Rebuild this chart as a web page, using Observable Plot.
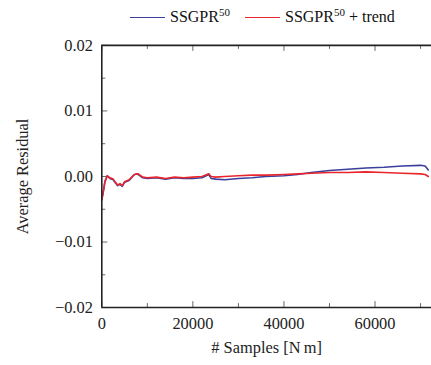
<!DOCTYPE html>
<html><head><meta charset="utf-8">
<script src="https://cdn.jsdelivr.net/npm/d3@7"></script>
<script src="https://cdn.jsdelivr.net/npm/@observablehq/plot@0.6"></script>
<style>
html,body{margin:0;padding:0;background:#fff;overflow:hidden;width:431px;height:365px}
#legend{height:30px;position:relative;font-family:"Liberation Serif",serif;font-size:16px;color:#111}
.item{position:absolute;top:7px;display:flex;align-items:center;white-space:nowrap;line-height:20px}
.sw{display:inline-block;width:35px;height:0;border-top:1.6px solid;margin-right:5px}
sup{font-size:11px;vertical-align:6px;line-height:0}
#chart svg{display:block;font-family:"Liberation Serif",serif !important;font-size:16.5px !important}
#chart svg text{font-family:"Liberation Serif",serif !important}
</style></head><body>
<div id="legend"></div><div id="chart"></div>
<script>
// ---- data ----
const samples =    [0, 300, 700, 1200, 1800, 2500, 3000, 3500, 4000, 4500, 5000, 6000, 7000, 7500, 8000, 9000, 10000, 12000, 14000, 16000, 18000, 20000, 22000, 23500, 24000, 25000, 27000, 30000, 33000, 36000, 40000, 43000, 46000, 50000, 54000, 58000, 62000, 66000, 70000, 71000, 71700];
const ssgpr =      [-0.0035, -0.0025, -0.0008, 0.0001, -0.0003, -0.0005, -0.0010, -0.0014, -0.0012, -0.0015, -0.0009, -0.0006, 0.0002, 0.0004, 0.0003, -0.0002, -0.0003, -0.0002, -0.0004, -0.0002, -0.0003, -0.0003, -0.0002, 0.0003, -0.0003, -0.0004, -0.0005, -0.0003, -0.0002, 0.0000, 0.0001, 0.0003, 0.0006, 0.0009, 0.0011, 0.0013, 0.0014, 0.0016, 0.0017, 0.0016, 0.0010];
const ssgprTrend = [-0.0036, -0.0024, -0.0007, 0.0001, -0.0002, -0.0004, -0.0009, -0.0013, -0.0011, -0.0014, -0.0008, -0.0005, 0.0002, 0.0004, 0.0004, -0.0001, -0.0002, -0.0001, -0.0003, -0.0001, -0.0002, -0.0001, 0.0000, 0.0004, 0.0000, -0.0001, 0.0000, 0.0001, 0.0002, 0.0002, 0.0003, 0.0004, 0.0005, 0.0006, 0.0006, 0.0007, 0.0006, 0.0005, 0.0004, 0.0003, 0.0000];
const seriesLabels = ["SSGPR", "SSGPR"];
const seriesSup = ["50", "50"];
const seriesSuffix = ["", " + trend"];
const seriesColors = ["#3a3f9c", "#e8262c"];
const xMajor = [0, 20000, 40000, 60000];
const xMinor = [10000, 30000, 50000, 70000];
const yMajor = [-0.02, -0.01, 0, 0.01, 0.02];
const yMinor = [-0.015, -0.005, 0.005, 0.015];
const xLabel = "# Samples [N\u2009m]";
const yLabel = "Average Residual";

// ---- legend ----
const legend = document.getElementById("legend");
const legendLeft = [130, 245];
seriesLabels.forEach((s, i) => {
  const it = document.createElement("div");
  it.className = "item";
  it.style.left = legendLeft[i] + "px";
  it.innerHTML = `<span class="sw" style="border-color:${seriesColors[i]}"></span><span>${s}<sup>${seriesSup[i]}</sup>${seriesSuffix[i]}</span>`;
  legend.appendChild(it);
});

// ---- chart ----
const W = 434, H = 335, mT = 15, mB = 56, mL = 102, mR = 0;
const plotH = H - mT - mB;
const plotW = W - mL - mR;
const d1 = samples.map((x, i) => ({x, y: ssgpr[i]}));
const d2 = samples.map((x, i) => ({x, y: ssgprTrend[i]}));
const frame = {stroke: "#222", strokeWidth: 1.6};
const tk = {stroke: "#555", strokeWidth: 0.9};

const chart = Plot.plot({
  width: W, height: H, marginTop: mT, marginBottom: mB, marginLeft: mL, marginRight: mR,
  style: {fontFamily: "'Liberation Serif', serif", fontSize: "16.5px", color: "#222", background: "white", overflow: "visible"},
  x: {domain: [0, 72400]},
  y: {domain: [-0.02, 0.02]},
  marks: [
    Plot.tickX(xMajor, {x: d => d, insetTop: plotH - 6, ...tk}),
    Plot.tickX(xMajor, {x: d => d, insetBottom: plotH - 6, ...tk}),
    Plot.tickX(xMinor, {x: d => d, insetTop: plotH - 4, ...tk}),
    Plot.tickX(xMinor, {x: d => d, insetBottom: plotH - 4, ...tk}),
    Plot.tickY(yMajor, {y: d => d, insetRight: plotW - 6, ...tk}),
    Plot.tickY(yMinor, {y: d => d, insetRight: plotW - 4, ...tk}),
    Plot.line(d1, {x: "x", y: "y", stroke: seriesColors[0], strokeWidth: 1.6}),
    Plot.line(d2, {x: "x", y: "y", stroke: seriesColors[1], strokeWidth: 1.6}),
    Plot.ruleY([-0.02, 0.02], frame),
    Plot.ruleX([0], frame),
    Plot.axisX({ticks: xMajor, tickSize: 0, tickPadding: 10, tickFormat: d3.format("d"), label: null}),
    Plot.axisY({ticks: yMajor, tickSize: 0, tickPadding: 9, tickFormat: d3.format(".2f"), label: null}),
    Plot.text([xLabel], {frameAnchor: "bottom", dy: 46, fill: "#222"}),
    Plot.text([yLabel], {frameAnchor: "left", textAnchor: "middle", rotate: -90, dx: -80, fill: "#222"})
  ]
});
document.getElementById("chart").appendChild(chart);
</script>
</body></html>
